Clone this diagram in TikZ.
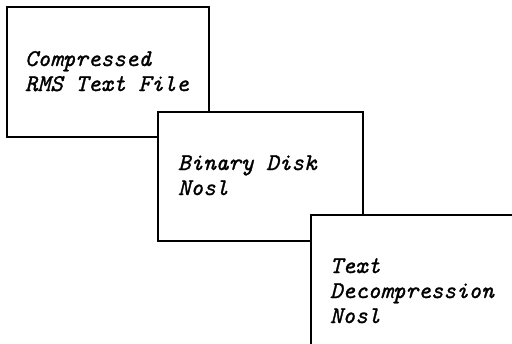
\documentclass[tikz,border=0pt]{standalone}
\usepackage{fontspec}
\newfontfamily\stagefont[FakeBold=1.2]{Latin Modern Mono}
\usetikzlibrary{positioning}
\begin{document}
\begin{tikzpicture}[
  x=0.5pt, y=-0.5pt,
  every node/.style={inner sep=0pt, outer sep=0pt},
  stagebox/.style={rectangle, draw=black, fill=white, line width=1pt, anchor=north west},
  stagetext/.style={anchor=base west, align=left, font=\stagefont\itshape\fontsize{12}{12.5}\selectfont}
]
\clip (0,0) rectangle (512,343);
\useasboundingbox (0,0) rectangle (512,343);

% Stage 1
\node[stagebox, minimum width=101pt, minimum height=65pt] (rms) at (7,7) {};
\node[stagetext] (rmstext) at (25,91) {Compressed\\RMS Text File};

% Stage 2
\node[stagebox, minimum width=102.5pt, minimum height=64.5pt] (disk) at (158,112) {};
\node[stagetext] (disktext) at (178,195) {Binary Disk\\Nosl};

% Stage 3 (runs off the page)
\node[stagebox, minimum width=110pt, minimum height=70pt] (decomp) at (311,215) {};
\node[stagetext] (decomptext) at (330,323) {Text\\Decompression\\Nosl};

\end{tikzpicture}
\end{document}
